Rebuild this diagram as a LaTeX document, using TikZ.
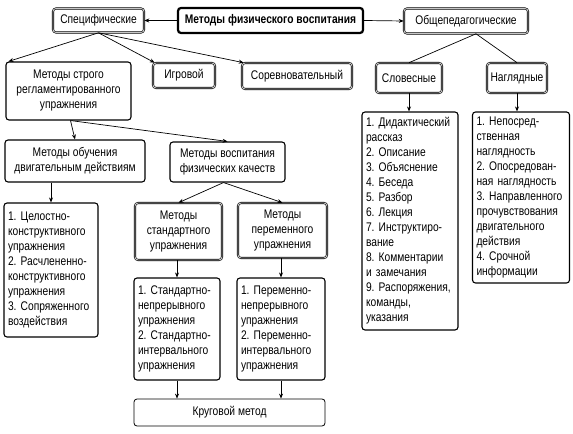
\documentclass[tikz,border=0pt]{standalone}
\usepackage{fontspec}
\setmainfont{Liberation Sans}[FakeStretch=0.82]
\usetikzlibrary{arrows.meta,calc}
\begin{document}
\begin{tikzpicture}[x=1bp,y=-1bp,
  box/.style={draw=black,line width=1.1bp,rounded corners=3bp,inner sep=2bp,align=center,
    font=\fontsize{12.5bp}{15bp}\selectfont\frenchspacing},
  dbox/.style={box,line width=0.6bp,double=gray!45,double distance=0.9bp},
  lbox/.style={box,align=left,inner xsep=4bp,inner ysep=2bp},
  arr/.style={line width=0.7bp,-{Stealth[length=5bp,width=4bp]}},
  ln/.style={line width=0.7bp}]
\useasboundingbox (0,0) rectangle (573,434);
% top row
\node[box,line width=2.2bp,font=\fontsize{12.5bp}{15bp}\selectfont\bfseries,minimum width=185bp,minimum height=25bp] (main) at (270.5,20.5) {Методы физического воспитания};
\node[dbox,minimum width=91bp,minimum height=24bp] (spec) at (98.5,20.5) {Специфические};
\node[dbox,minimum width=124bp,minimum height=25bp] (obsh) at (466,21) {Общепедагогические};
% second row
\node[box,minimum width=125bp,minimum height=58bp] (strogo) at (68.5,91) {Методы строго\\регламентированного\\упражнения};
\node[dbox,minimum width=62bp,minimum height=25bp] (igr) at (184,75.5) {Игровой};
\node[dbox,minimum width=110bp,minimum height=26bp] (sorev) at (297,76) {Соревновательный};
\node[dbox,minimum width=66bp,minimum height=30bp] (slov) at (409,78) {Словесные};
\node[dbox,minimum width=60bp,minimum height=30bp] (nagl) at (517,78) {Наглядные};
% right lists
\node[lbox,text width=88bp,minimum height=218bp] (slovlist) at (410,221) {1. Дидактический\\рассказ\\2. Описание\\3. Объяснение\\4. Беседа\\5. Разбор\\6. Лекция\\7. Инструктиро-\\вание\\8. Комментарии\\и замечания\\9. Распоряжения,\\команды,\\указания};
\node[lbox,text width=89bp,minimum height=171bp] (nagllist) at (521,197.5) {1. Непосред-\\ственная\\наглядность\\2. Опосредован-\\ная наглядность\\3. Направленного\\прочувствования\\двигательного\\действия\\4. Срочной\\информации};
% third row
\node[box,minimum width=140bp,minimum height=42bp] (obuch) at (75,161) {Методы обучения\\двигательным действиям};
\node[box,minimum width=115bp,minimum height=40bp] (vosp) at (227.5,162) {Методы воспитания\\физических качеств};
\node[lbox,text width=86bp,minimum height=134bp] (list1) at (51,270) {1. Целостно-\\конструктивного\\упражнения\\2. Расчлененно-\\конструктивного\\упражнения\\3. Сопряженного\\воздействия};
\node[dbox,minimum width=87bp,minimum height=57bp] (stand) at (178.5,231.5) {Методы\\стандартного\\упражнения};
\node[dbox,minimum width=89bp,minimum height=55bp] (perem) at (282.5,230.5) {Методы\\переменного\\упражнения};
\node[lbox,text width=78bp,minimum height=102bp] (standlist) at (177,329) {1. Стандартно-\\непрерывного\\упражнения\\2. Стандартно-\\интервального\\упражнения};
\node[lbox,text width=80bp,minimum height=102bp] (peremlist) at (281,329) {1. Переменно-\\непрерывного\\упражнения\\2. Переменно-\\интервального\\упражнения};
\node[box,line width=0.8bp,minimum width=191bp,minimum height=27bp] (krug) at (229.5,412.5) {Круговой метод};
% connectors
\draw[arr] (main.west) -- (spec.east);
\draw[arr] (main.east) -- (obsh.west);
\draw[arr] (spec.south) -- ($(strogo.north west)+(3,0)$);
\draw[arr] (spec.south) -- ($(igr.north west)+(2,0)$);
\draw[arr] (spec.south) -- ($(sorev.north west)+(2,0)$);
\draw[ln] ($(obsh.south)+(10,0)$) -- (slov.north);
\draw[ln] ($(obsh.south)+(10,0)$) -- (nagl.north);
\draw[arr] (slov.south) -- (slovlist.north -| slov.south);
\draw[arr] (nagl.south) -- (nagllist.north -| nagl.south);
\draw[arr] ($(strogo.south)+(2,0)$) -- (obuch.north);
\draw[arr] ($(strogo.south)+(2,0)$) -- (vosp.north);
\draw[arr] (obuch.south -| list1.north) -- (list1.north);
\draw[arr] ($(vosp.south)+(-4,0)$) -- (stand.north);
\draw[arr] ($(vosp.south)+(-4,0)$) -- (perem.north);
\draw[arr] (stand.south -| standlist.north) -- (standlist.north);
\draw[arr] (perem.south -| peremlist.north) -- (peremlist.north);
\draw[arr] (standlist.south) -- (standlist.south |- krug.north);
\draw[arr] (peremlist.south) -- (peremlist.south |- krug.north);
\end{tikzpicture}
\end{document}
